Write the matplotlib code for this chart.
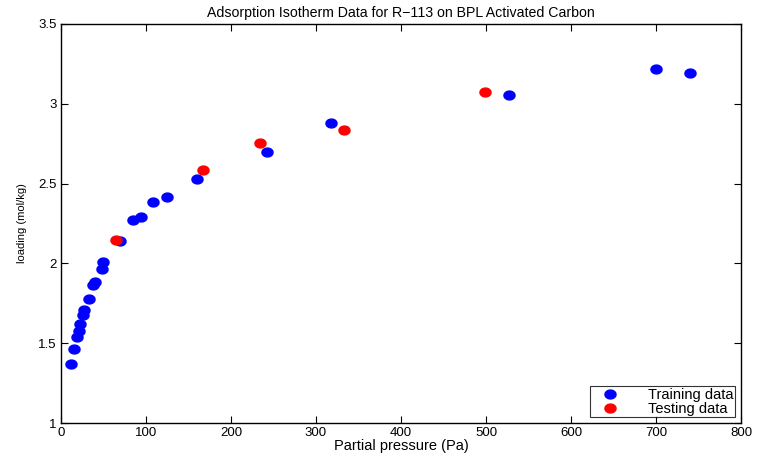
import numpy as np
import matplotlib
matplotlib.use("Agg")
import matplotlib.pyplot as plt
from matplotlib.path import Path

plt.rcParams['font.family'] = ['Liberation Sans', 'DejaVu Sans']

train_p = [12.1, 15.3, 18.5, 20.8, 22.4, 25.3, 27.1, 32.6, 37.3, 39.6, 48.2, 49.4,
           69.4, 84.7, 94.1, 108.2, 124.7, 160.0, 242.4, 317.6, 527.0, 700.0, 740.0]
train_q = [1.372, 1.464, 1.539, 1.576, 1.620, 1.677, 1.708, 1.779, 1.865, 1.882, 1.965, 2.009,
           2.140, 2.275, 2.291, 2.385, 2.416, 2.529, 2.698, 2.880, 3.055, 3.218, 3.193]
test_p = [64.7, 167.0, 234.0, 333.0, 498.8]
test_q = [2.147, 2.585, 2.754, 2.836, 3.074]

xticks = [0, 100, 200, 300, 400, 500, 600, 700, 800]
yticks = [1, 1.5, 2, 2.5, 3, 3.5]
ytick_labels = ['1', '1.5', '2', '2.5', '3', '3.5']

t = np.linspace(0, 2 * np.pi, 40)
ell = Path(np.column_stack([np.cos(t), 0.8 * np.sin(t)]))

fig = plt.figure(figsize=(7.57, 4.55), dpi=100)
ax = fig.add_axes([61 / 757, 32 / 455, 680 / 757, 399 / 455])

ax.plot(train_p, train_q, linestyle='none', marker=ell, markersize=8,
        color='#0000ff', markeredgecolor='#0000ff', label='Training data')
ax.plot(test_p, test_q, linestyle='none', marker=ell, markersize=8,
        color='#ff0000', markeredgecolor='#ff0000', label='Testing data')

ax.set_xlim(0, 800)
ax.set_ylim(1, 3.5)
ax.set_xticks(xticks)
ax.set_yticks(yticks)
ax.set_yticklabels(ytick_labels)
ax.tick_params(direction='in', top=True, right=True, length=5, width=0.8,
               labelsize=9.5, pad=3)
for s in ax.spines.values():
    s.set_linewidth(1.0)

ax.set_title('Adsorption Isotherm Data for R\u2212113 on BPL Activated Carbon',
             fontsize=10.2, pad=5)
ax.set_xlabel('Partial pressure (Pa)', fontsize=10.5, labelpad=0)
ax.set_ylabel('loading (mol/kg)', fontsize=8, labelpad=8)

leg = ax.legend(loc='lower right', fontsize=10.5, frameon=True, fancybox=False,
                edgecolor='black', borderaxespad=0.4, handletextpad=1.3,
                handlelength=2.6, borderpad=0.1, labelspacing=0.0,
                markerscale=1.0)
leg.get_frame().set_linewidth(0.8)

fig.savefig('out.png', dpi=100)
